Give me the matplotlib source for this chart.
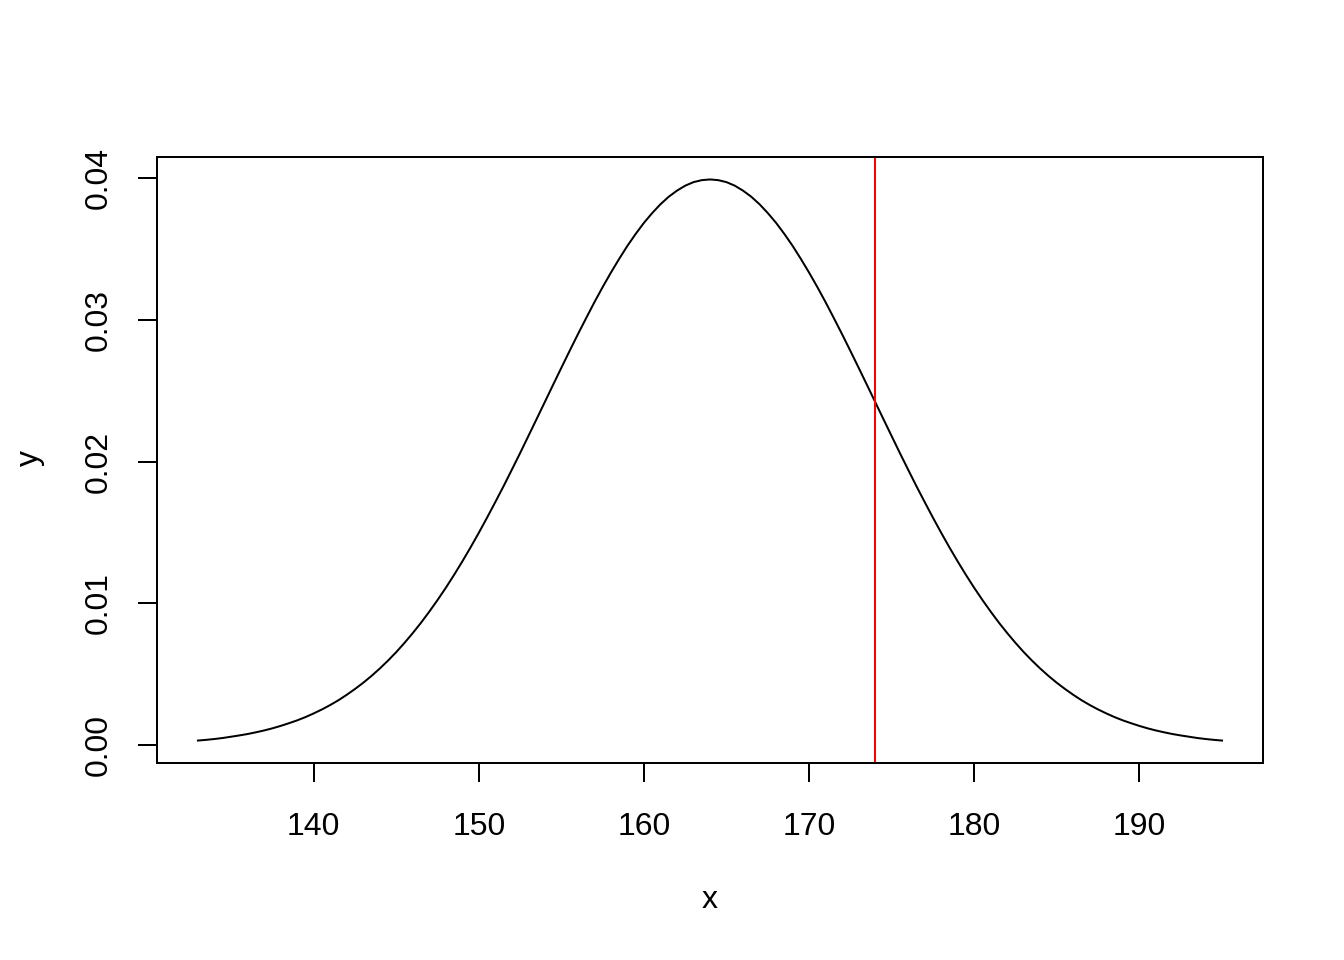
import matplotlib
matplotlib.use("Agg")
import matplotlib.pyplot as plt

plt.rcParams['font.family'] = ['Liberation Sans', 'DejaVu Sans']

# density values, right half (x = 164, 164.5, ..., 195); curve is symmetric about 164
center = 164.0
step = 0.5
y_half = [0.03989, 0.03984, 0.03970, 0.03945, 0.03910, 0.03867, 0.03814, 0.03752,
          0.03683, 0.03605, 0.03521, 0.03429, 0.03332, 0.03230, 0.03123, 0.03011,
          0.02897, 0.02780, 0.02661, 0.02541, 0.02420, 0.02299, 0.02179, 0.02059,
          0.01942, 0.01826, 0.01714, 0.01604, 0.01497, 0.01394, 0.01295, 0.01200,
          0.01109, 0.01023, 0.00941, 0.00863, 0.00790, 0.00721, 0.00656, 0.00596,
          0.00540, 0.00488, 0.00440, 0.00396, 0.00355, 0.00317, 0.00283, 0.00252,
          0.00224, 0.00198, 0.00175, 0.00155, 0.00136, 0.00119, 0.00104, 0.00091,
          0.00079, 0.00069, 0.00060, 0.00051, 0.00044, 0.00038, 0.00033]
y_vals = y_half[:0:-1] + y_half
n = len(y_half) - 1
x_vals = [center + step * k for k in range(-n, n + 1)]
vline_x = 174
xticks = [140, 150, 160, 170, 180, 190]
yticks = [0.00, 0.01, 0.02, 0.03, 0.04]
ytick_labels = ["0.00", "0.01", "0.02", "0.03", "0.04"]

fig = plt.figure(figsize=(7, 5), dpi=192)
ax = fig.add_axes([157/1344, 1-763/960, (1263-157)/1344, (763-157)/960])
ax.plot(x_vals, y_vals, color='black', lw=0.75)
ax.axvline(vline_x, color='red', lw=0.75)

xmin, xmax = min(x_vals), max(x_vals)
ymin, ymax = min(y_vals), max(y_vals)
px = (xmax - xmin) * 0.04
py = (ymax - ymin) * 0.04
ax.set_xlim(xmin - px, xmax + px)
ax.set_ylim(ymin - py, ymax + py)

ax.set_xticks(xticks)
ax.set_xticklabels([str(t) for t in xticks])
ax.set_yticks(yticks)
ax.set_yticklabels(ytick_labels, rotation=90, va='center')
ax.tick_params(axis='both', direction='out', length=7.2, width=0.75, labelsize=12)
ax.tick_params(axis='x', pad=11)
ax.tick_params(axis='y', pad=9)
for s in ax.spines.values():
    s.set_linewidth(0.75)

fig.text(710/1344, 1-900/960, 'x', ha='center', va='center', fontsize=12)
fig.text(30/1344, 1-458/960, 'y', ha='center', va='center', fontsize=12, rotation=90)

fig.savefig('out.png', dpi=192)
